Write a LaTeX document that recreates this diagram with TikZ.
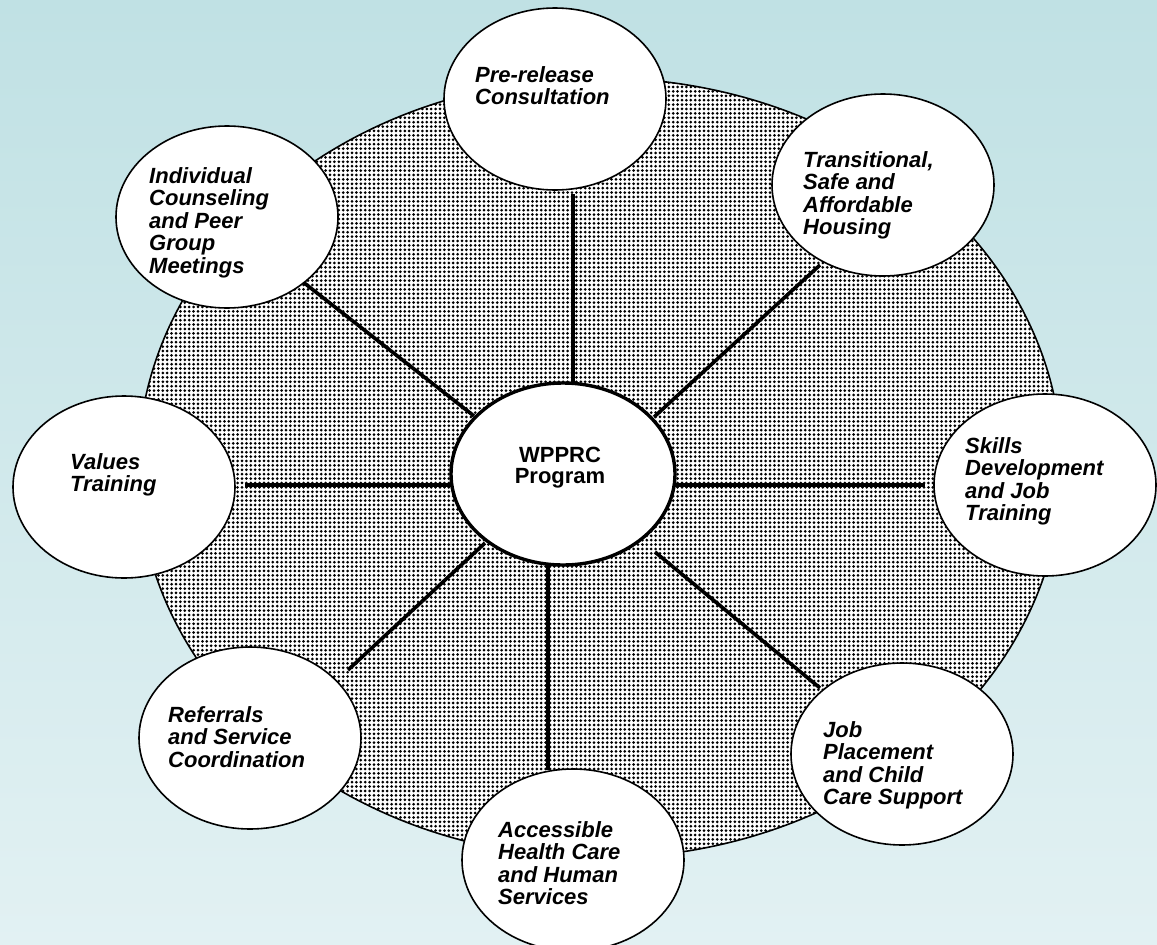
\documentclass[tikz,border=0pt]{standalone}
\usepackage{fontspec}
\setmainfont{Liberation Sans}
\usetikzlibrary{shapes.geometric,patterns.meta}
\definecolor{bgtop}{RGB}{192,225,228}
\definecolor{bgbot}{RGB}{226,241,243}
\newcommand\stk[1]{\vtop{\halign{##\hfil\cr#1\crcr}}}
\newcommand\cstk[1]{\vtop{\halign{\hfil##\hfil\cr#1\crcr}}}
\begin{document}
\begin{tikzpicture}[x=1pt,y=-1pt,
  bubble/.style={ellipse, draw=black, line width=1.6pt, fill=white,
    minimum width=222pt, minimum height=182pt, inner sep=0pt},
  hubbox/.style={bubble, line width=3.4pt, minimum width=224pt},
  field/.style={ellipse, draw=black, line width=1.6pt, inner sep=0pt,
    minimum width=924pt, minimum height=780pt,
    preaction={fill=white}, pattern={Dots[distance=4.4pt,radius=1.5pt]}},
  spoke/.style={line width=3.6pt},
  lbl/.style={anchor=base west, inner sep=0pt,
    font=\fontsize{22}{22.6}\selectfont\bfseries\itshape},
  hublbl/.style={anchor=base, inner sep=0pt,
    font=\fontsize{22}{21.5}\selectfont\bfseries}]
\useasboundingbox (0,0) rectangle (1157,945);
\shade[top color=bgtop, bottom color=bgbot] (0,0) rectangle (1157,945);

\node[field] (field) at (600,468) {};

% spoke end points
\coordinate (s1a) at (573,194);  \coordinate (s1b) at (573,384);
\coordinate (s2a) at (820,265);  \coordinate (s2b) at (654,417);
\coordinate (s3a) at (303,282);  \coordinate (s3b) at (474,416);
\coordinate (s4a) at (245,485);  \coordinate (s4b) at (452,485);
\coordinate (s5a) at (925,485);  \coordinate (s5b) at (674,485);
\coordinate (s6a) at (348,670);  \coordinate (s6b) at (485,543);
\coordinate (s7a) at (548,770);  \coordinate (s7b) at (548,564);
\coordinate (s8a) at (820,688);  \coordinate (s8b) at (655,552);

\foreach \i in {1,...,8} {\draw[spoke] (s\i a) -- (s\i b);}

\node[hubbox] (hub) at (563,474) {};
\node[bubble] (pre) at (555,99) {};
\node[bubble] (ind) at (227,217) {};
\node[bubble] (tra) at (883,185) {};
\node[bubble] (val) at (124,487) {};
\node[bubble] (ski) at (1045,485) {};
\node[bubble] (ref) at (250,738) {};
\node[bubble] (job) at (902,754) {};
\node[bubble] (acc) at (573,860) {};

\node[hublbl] (thub) at (560,462) {\cstk{WPPRC\cr Program}};
\node[lbl] (tpre) at (475,82) {\stk{Pre-release\cr Consultation}};
\node[lbl] (tind) at (149,183) {\stk{Individual\cr Counseling\cr and Peer\cr Group\cr Meetings}};
\node[lbl] (ttra) at (803,167) {\stk{Transitional,\cr Safe and\cr Affordable\cr Housing}};
\node[lbl] (tval) at (70,469) {\stk{Values\cr Training}};
\node[lbl] (tski) at (965,453) {\stk{Skills\cr Development\cr and Job\cr Training}};
\node[lbl] (tref) at (168,722) {\stk{Referrals\cr and Service\cr Coordination}};
\node[lbl] (tjob) at (823,737) {\stk{Job\cr Placement\cr and Child\cr Care Support}};
\node[lbl] (tacc) at (498,837) {\stk{Accessible\cr Health Care\cr and Human\cr Services}};
\end{tikzpicture}
\end{document}
